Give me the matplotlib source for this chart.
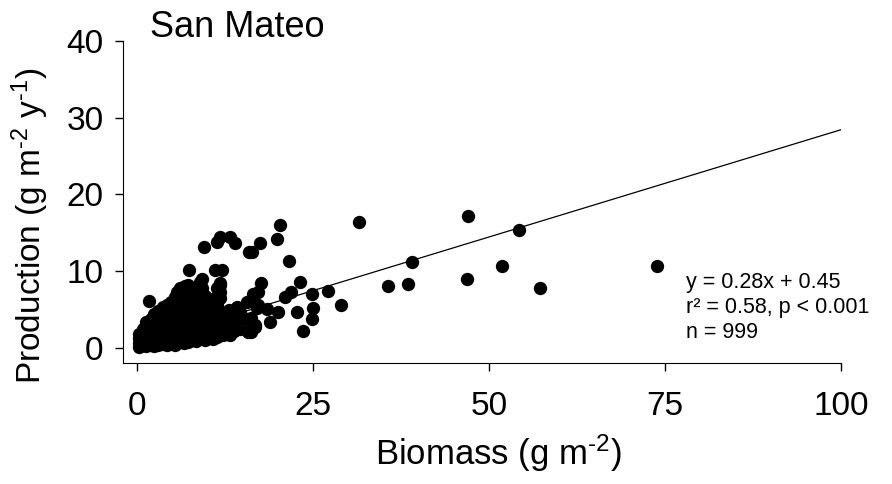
import matplotlib.pyplot as plt
import numpy as np

plt.rcParams['font.family'] = ['Liberation Sans', 'DejaVu Sans']
plt.rcParams['mathtext.fontset'] = 'custom'
plt.rcParams['mathtext.rm'] = 'Liberation Sans'
plt.rcParams['mathtext.default'] = 'regular'

# points (biomass, production)
# scattered points
outer_x = [73.9, 57.2, 51.8, 54.3, 47.0, 46.9, 39.1, 38.4, 35.7, 31.5]
outer_y = [10.6, 7.8, 10.7, 15.4, 17.2, 8.9, 11.2, 8.3, 8.0, 16.4]

# middle group
mid_x = [20.3, 19.9, 17.5, 16.3, 21.6, 17.6, 23.2, 21.9, 21.0, 16.5,
         24.9, 27.1, 29.0, 22.7, 25.0, 24.9, 23.6, 20.0, 18.8, 17.2,
         18.5, 16.8, 9.5, 11.8, 13.2, 13.9, 11.4, 15.9, 7.4, 11.1,
         12.1, 9.2, 11.8, 15.6, 14.2, 1.7, 8.9, 11.4, 11.8, 10.1,
         6.1, 6.8, 5.4, 15.6, 16.8, 13.5, 16.1, 8.9, 9.2, 11.8,
         11.8, 6.8, 5.7, 14.2, 12.8, 11.8, 13.2, 13.2, 16.1, 15.8,
         17.0, 17.2]
mid_y = [16.0, 14.2, 13.6, 12.5, 11.3, 8.5, 8.6, 7.3, 6.6, 7.0,
         7.0, 7.4, 5.6, 4.6, 5.2, 3.7, 2.2, 4.6, 3.4, 5.6,
         5.0, 3.0, 13.2, 14.5, 14.5, 13.7, 13.8, 12.5, 10.2, 10.2,
         10.2, 8.9, 8.5, 6.0, 5.3, 6.1, 7.6, 7.8, 6.5, 6.0,
         7.8, 7.6, 6.5, 3.7, 2.7, 2.0, 2.0, 8.6, 7.8, 8.2,
         7.2, 8.0, 7.3, 5.2, 4.3, 4.6, 3.0, 1.7, 3.9, 2.1,
         5.2, 7.2]

# dense cluster near the origin
core_x = [0.3, 0.3, 0.3, 0.3,
          0.8, 0.8, 0.8, 0.8,
          1.3, 1.3, 1.3, 1.3, 1.3,
          1.9, 1.9, 1.9, 1.9, 1.9,
          2.4, 2.4, 2.4, 2.4, 2.4, 2.4,
          3.0, 3.0, 3.0, 3.0, 3.0, 3.0,
          3.6, 3.6, 3.6, 3.6, 3.6, 3.6,
          4.2, 4.2, 4.2, 4.2, 4.2, 4.2, 4.2,
          4.8, 4.8, 4.8, 4.8, 4.8, 4.8, 4.8,
          5.4, 5.4, 5.4, 5.4, 5.4, 5.4, 5.4, 5.4,
          6.0, 6.0, 6.0, 6.0, 6.0, 6.0, 6.0, 6.0,
          6.6, 6.6, 6.6, 6.6, 6.6, 6.6, 6.6, 6.6,
          7.2, 7.2, 7.2, 7.2, 7.2, 7.2, 7.2, 7.2, 7.2,
          7.8, 7.8, 7.8, 7.8, 7.8, 7.8, 7.8,
          8.4, 8.4, 8.4, 8.4, 8.4, 8.4, 8.4, 8.4,
          9.0, 9.0, 9.0, 9.0, 9.0, 9.0,
          9.6, 9.6, 9.6, 9.6, 9.6, 9.6, 9.6,
          10.2, 10.2, 10.2, 10.2, 10.2,
          10.8, 10.8, 10.8, 10.8, 10.8, 10.8,
          11.4, 11.4, 11.4, 11.4, 11.4,
          12.2, 12.2, 12.2, 12.2,
          13.0, 13.0, 13.0, 13.0,
          13.8, 13.8, 13.8,
          14.6, 14.6, 14.6]
core_y = [0.1, 0.6, 1.2, 1.8,
          0.3, 0.9, 1.5, 2.4,
          0.2, 0.8, 1.6, 2.5, 3.3,
          0.4, 1.1, 2.0, 2.9, 3.8,
          0.2, 0.9, 1.7, 2.6, 3.5, 4.4,
          0.3, 1.2, 2.1, 3.0, 3.9, 4.8,
          0.5, 1.4, 2.4, 3.3, 4.2, 5.3,
          0.3, 1.0, 1.9, 2.8, 3.7, 4.6, 5.6,
          0.6, 1.5, 2.4, 3.2, 4.1, 5.0, 6.0,
          0.4, 1.2, 2.0, 2.9, 3.8, 4.7, 5.6, 6.6,
          0.7, 1.6, 2.5, 3.4, 4.3, 5.2, 6.1, 7.0,
          0.6, 1.3, 2.2, 3.1, 4.0, 4.9, 5.8, 6.9,
          0.8, 1.7, 2.6, 3.5, 4.4, 5.3, 6.2, 7.3, 8.2,
          1.0, 1.9, 2.8, 3.7, 4.6, 5.5, 6.5,
          0.9, 1.8, 2.7, 3.6, 4.5, 5.4, 6.4, 7.4,
          1.2, 2.1, 3.0, 3.9, 4.8, 5.8,
          1.0, 1.9, 2.8, 3.7, 4.7, 5.5, 6.8,
          1.3, 2.2, 3.2, 4.1, 5.1,
          1.1, 2.0, 3.0, 3.9, 4.9, 6.3,
          1.4, 2.4, 3.3, 4.2, 5.6,
          1.6, 2.6, 3.5, 4.4,
          1.8, 2.8, 3.9, 4.9,
          2.2, 3.4, 4.4,
          2.5, 3.6, 4.6]

slope = 0.28
intercept = 0.45

x = np.array(outer_x + mid_x + core_x)
y = np.array(outer_y + mid_y + core_y)

fig = plt.figure(figsize=(8.92, 4.84), dpi=100)
ax = fig.add_axes([0.138, 0.25, 0.805, 0.665])

ax.scatter(x, y, s=92, color='black', linewidths=0, zorder=3)

x_fit = np.array([0, 100])
ax.plot(x_fit, slope * x_fit + intercept, color='black', lw=0.9, zorder=2)

ax.set_xlim(-2, 100)
ax.set_ylim(-2, 40)
ax.set_xticks([0, 25, 50, 75, 100])
ax.set_yticks([0, 10, 20, 30, 40])
ax.spines['top'].set_visible(False)
ax.spines['right'].set_visible(False)
ax.tick_params(axis='both', direction='out', length=6, width=1, labelsize=24)
ax.tick_params(axis='x', pad=14)
ax.tick_params(axis='y', pad=8)

hy = '\u2010'  # plain hyphen for the exponents
ax.text(78.0, 7.8, 'y = 0.28x + 0.45', fontsize=15.5, va='baseline')
ax.text(78.0, 4.5, 'r\u00b2 = 0.58, p < 0.001', fontsize=15.5, va='baseline')
ax.text(78.0, 1.2, 'n = 999', fontsize=15.5, va='baseline')

fig.text(150 / 892, 0.924, 'San Mateo', fontsize=26, va='baseline')
fig.text(30 / 892, (484 - 226) / 484,
         'Production (g m$^{' + hy + '2}$ y$^{' + hy + '1}$)',
         fontsize=24, rotation=90, ha='center', va='center')
fig.text(498 / 892, 0.04, 'Biomass (g m$^{' + hy + '2}$)', fontsize=25,
         ha='center', va='baseline')

plt.savefig('out.png', dpi=100)
